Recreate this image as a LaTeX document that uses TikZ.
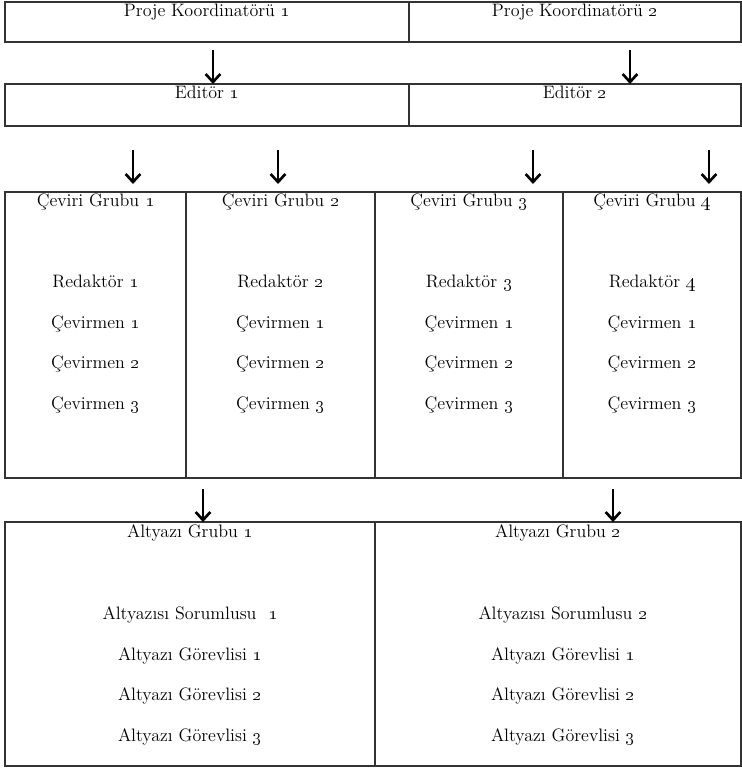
\documentclass[tikz,border=0pt]{standalone}
\usepackage{tikz}
\usetikzlibrary{arrows.meta}
\newcommand{\yazi}{\fontsize{13.5}{16}\selectfont}
\newcommand{\rk}[1]{\oldstylenums{#1}}

\begin{document}
\begin{tikzpicture}[x=0.75pt, y=-0.75pt,
  kutu/.style={draw=black!80, line width=0.9pt, inner sep=0pt, outer sep=0pt},
  baslik/.style={anchor=north, inner sep=1.5pt, font=\yazi},
  liste/.style={align=center, font=\yazi},
  ok/.style={-{Straight Barb[length=6pt, width=11pt]}, line width=2pt}]
\useasboundingbox (0,0) rectangle (742,771);
% koordinatorler ve editorler
\node[kutu, minimum width=303pt, minimum height=30pt, label={[baslik]north:Proje Koordinatörü \rk{1}}] (pk1) at (207,22) {};
\node[kutu, minimum width=249pt, minimum height=30pt, label={[baslik]north:Proje Koordinatörü \rk{2}}] (pk2) at (575,22) {};
\node[kutu, minimum width=303pt, minimum height=31.5pt, label={[baslik]north:Editör \rk{1}}] (ed1) at (207,105) {};
\node[kutu, minimum width=249pt, minimum height=31.5pt, label={[baslik]north:Editör \rk{2}}] (ed2) at (575,105) {};
% ceviri gruplari
\node[kutu, minimum width=135.75pt, minimum height=214.5pt, label={[baslik]north:Çeviri Grubu \rk{1}}] (cg1) at (95.5,335) {};
\node[kutu, minimum width=141.75pt, minimum height=214.5pt, label={[baslik]north:Çeviri Grubu \rk{2}}] (cg2) at (280.5,335) {};
\node[kutu, minimum width=141pt, minimum height=214.5pt, label={[baslik]north:Çeviri Grubu \rk{3}}] (cg3) at (469,335) {};
\node[kutu, minimum width=133.5pt, minimum height=214.5pt, label={[baslik]north:Çeviri Grubu \rk{4}}] (cg4) at (652,335) {};
\node[liste] (ls1) at (cg1 |- 0,344) {Redaktör \rk{1}\\[14.5pt] Çevirmen \rk{1}\\[14.5pt] Çevirmen \rk{2}\\[14.5pt] Çevirmen \rk{3}};
\node[liste] (ls2) at (cg2 |- 0,344) {Redaktör \rk{2}\\[14.5pt] Çevirmen \rk{1}\\[14.5pt] Çevirmen \rk{2}\\[14.5pt] Çevirmen \rk{3}};
\node[liste] (ls3) at (cg3 |- 0,344) {Redaktör \rk{3}\\[14.5pt] Çevirmen \rk{1}\\[14.5pt] Çevirmen \rk{2}\\[14.5pt] Çevirmen \rk{3}};
\node[liste] (ls4) at (cg4 |- 0,344) {Redaktör \rk{4}\\[14.5pt] Çevirmen \rk{1}\\[14.5pt] Çevirmen \rk{2}\\[14.5pt] Çevirmen \rk{3}};
% altyazi gruplari
\node[kutu, minimum width=277.5pt, minimum height=183pt, label={[baslik]north:Altyazı Grubu \rk{1}}] (ag1) at (190,644) {};
\node[kutu, minimum width=274.5pt, minimum height=183pt, label={[baslik]north:Altyazı Grubu \rk{2}}] (ag2) at (558,644) {};
\node[liste] (la1) at (ag1 |- 0,676) {Altyazısı Sorumlusu\ \ \rk{1}\\[14.5pt] Altyazı Görevlisi \rk{1}\\[14.5pt] Altyazı Görevlisi \rk{2}\\[14.5pt] Altyazı Görevlisi \rk{3}};
\node[liste] (la2) at (563,676) {Altyazısı Sorumlusu \rk{2}\\[14.5pt] Altyazı Görevlisi \rk{1}\\[14.5pt] Altyazı Görevlisi \rk{2}\\[14.5pt] Altyazı Görevlisi \rk{3}};
% oklar
\coordinate (o1) at (213,50);
\coordinate (o2) at (630,50);
\coordinate (o3) at (133,150);
\coordinate (o4) at (278,150);
\coordinate (o5) at (533,150);
\coordinate (o6) at (709,150);
\coordinate (o7) at (203,489);
\coordinate (o8) at (613,489);
\draw[ok] (o1) -- (o1 |- ed1.north);
\draw[ok] (o2) -- (o2 |- ed2.north);
\draw[ok] (o3) -- ([yshift=6]o3 |- cg1.north);
\draw[ok] (o4) -- ([yshift=6]o4 |- cg2.north);
\draw[ok] (o5) -- ([yshift=6]o5 |- cg3.north);
\draw[ok] (o6) -- ([yshift=6]o6 |- cg4.north);
\draw[ok] (o7) -- (o7 |- ag1.north);
\draw[ok] (o8) -- (o8 |- ag2.north);
\end{tikzpicture}
\end{document}
